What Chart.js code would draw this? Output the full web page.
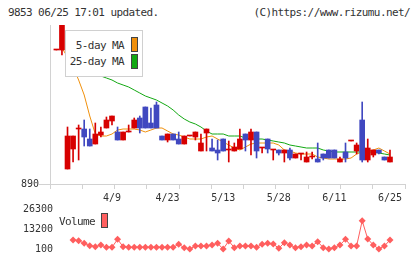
<!DOCTYPE html>
<html>
<head>
<meta charset="utf-8">
<script src="https://cdn.jsdelivr.net/npm/chart.js@4"></script>
<style>
body { margin: 0; background: #fff; }
#wrap { position: relative; width: 420px; height: 259px; overflow: hidden; font-family: "DejaVu Sans Mono", monospace; color: #333; }
#wrap canvas { position: absolute; left: 0; }
#priceChart { top: 0; }
#volChart { top: 200px; }
.txt { position: absolute; font-size: 11px; line-height: 12px; letter-spacing: -0.6px; white-space: nowrap; }
#maLegend { position: absolute; left: 65px; top: 30px; width: 78px; height: 47px; box-sizing: border-box; background: #fff; border: 1px solid #d0d0d0; }
#maLegend .txt { left: 0; width: 58px; text-align: right; }
.sw { position: absolute; width: 7px; height: 15px; box-sizing: border-box; border: 1px solid #444; }
</style>
</head>
<body>
<div id="wrap">
  <div class="txt" style="left:8px;top:7px">9853 06/25 17:01 updated.</div>
  <div class="txt" style="right:10px;top:7px">(C)https://www.rizumu.net/</div>
  <canvas id="priceChart" width="420" height="205"></canvas>
  <canvas id="volChart" width="420" height="59"></canvas>
  <div id="maLegend">
    <div class="txt" style="top:9px">5-day MA</div>
    <div class="sw" style="left:65px;top:6px;background:#f0900c"></div>
    <div class="txt" style="top:25px">25-day MA</div>
    <div class="sw" style="left:65px;top:23px;background:#12a812"></div>
  </div>
  <div class="txt" style="left:59px;top:216px">Volume</div>
  <div class="sw" style="left:101px;top:213px;background:#ff6060"></div>
</div>
<script>
// 日足データ (円) - 左から古い順
const opens  = [1024, 1024, 905, 925, 945, 945, 935, 930, 939, 946, 953, 942, 934, 942, 946, 956, 967, 951, 969, 938,
                934, 940, 935, 930, 938, 937, 923, 941, 926, 924, 935, 924, 923, 925, 940, 934, 942, 926, 935, 924,
                924, 921, 924, 916, 920, 912, 917, 915, 920, 924, 924, 912, 922, 933, 923, 954, 914, 919, 924, 917, 912];
const highs  = [1024, 1070, 947, 938, 949, 954, 945, 951, 947, 957, 958, 947, 942, 949, 956, 958, 967, 966, 972, 938,
                940, 940, 942, 938, 938, 942, 940, 945, 935, 934, 935, 933, 931, 945, 940, 945, 942, 926, 935, 924,
                924, 924, 926, 920, 920, 922, 922, 931, 920, 924, 924, 917, 931, 933, 931, 972, 935, 924, 924, 917, 924];
const lows   = [1024, 1019, 905, 912, 914, 928, 928, 930, 937, 946, 949, 934, 934, 942, 946, 941, 946, 946, 946, 934,
                932, 934, 930, 930, 938, 934, 923, 923, 923, 914, 923, 912, 923, 925, 923, 919, 916, 921, 921, 914,
                919, 912, 914, 916, 914, 912, 915, 912, 914, 916, 916, 912, 912, 933, 920, 912, 912, 917, 920, 914, 912];
const closes = [1024, 1062, 938, 938, 945, 937, 928, 940, 942, 954, 958, 934, 942, 942, 954, 946, 946, 946, 946, 934,
                940, 934, 930, 938, 938, 942, 931, 945, 923, 921, 923, 924, 927, 935, 934, 942, 923, 926, 925, 924,
                921, 924, 916, 920, 920, 917, 917, 912, 916, 916, 916, 915, 916, 933, 929, 914, 926, 924, 921, 914, 917];

// 移動平均 (画面外の過去データから計算されているので値を直接持つ)
const ma5  = [null, 1026, 1017, 1007, 994, 979, 958, 940, 938, 938, 940, 944, 945, 945, 945, 944, 942, 944, 946, 946,
              943, 940, 939, 937, 935, 935, 935, 937, 938, 935, 932, 929, 926, 924, 927, 930, 931, 931, 931, 931,
              929, 924, 923, 921, 920, 920, 920, 917, 916, 915, 915, 915, 915, 916, 920, 922, 923, 924, 926, 923, 920];
const ma25 = [null, null, null, null, null, 1004, 1002, 1000, 998, 996, 994, 991, 989, 987, 984, 981, 978, 976, 974, 971,
              968, 964, 959, 955, 952, 950, 947, 943, 940, 940, 940, 938, 938, 938, 936, 935, 935, 935, 934, 933,
              932, 931, 929, 928, 927, 926, 926, 926, 924, 923, 922, 922, 922, 922, 922, 922, 922, 922, 921, 920, 919];

// 出来高 (株)
const volumes = [null, null, null, 6200, 5800, 4100, 2600, 1900, 3000, 1500, 1500, 6700, 1900, 1500, 1500, 1500, 1500, 1500, 1500, 1500,
                 1500, 1500, 3500, 1300, 400, 2400, 2400, 2400, 3000, 4100, 400, 5600, 1300, 2400, 2400, 2400, 1500, 3500, 4100, 3700,
                 900, 4500, 3000, 1300, 1900, 3000, 2400, 5100, 1300, 400, 1300, 3000, 6700, 2400, 2400, 18700, 6900, 3000, 400, 2400, 6200];

// 目盛り
const tickLabels = ["4/9", "4/23", "5/13", "5/28", "6/11", "6/25"];
const tickDays = [10, 20, 30, 40, 50, 60];
const priceTicks = [890];
const volTicks = [100, 13200, 26300];

const RED = "#d70000";
const BLUE = "#4048c0";
const ORANGE = "#f0900c";
const GREEN = "#12a812";
const AXIS = "#d2d2d2";
const TEXT = "#333333";
const VOL = "#ff5e5e";
const FONT = { family: '"DejaVu Sans Mono", monospace', size: 10 };

// 横軸の範囲 (ローソク足の番号)
const xMin = -1.15;
const xMax = 62.7;
const markStep = (xMax - xMin) / 11;

const idx = opens.map((_, i) => i);
const candleColors = idx.map((i) => closes[i] >= opens[i] ? RED : BLUE);

new Chart(document.getElementById("priceChart"), {
    type: "bar",
    data: {
        datasets: [
            {
                type: "line",
                label: "5-day MA",
                data: idx.map((i) => ({ x: i, y: ma5[i] })),
                borderColor: ORANGE,
                borderWidth: 1,
                pointRadius: 0,
                order: 3,
            },
            {
                type: "line",
                label: "25-day MA",
                data: idx.map((i) => ({ x: i, y: ma25[i] })),
                borderColor: GREEN,
                borderWidth: 1,
                pointRadius: 0,
                order: 4,
            },
            {
                label: "wick",
                data: idx.map((i) => ({ x: i, y: [lows[i], highs[i]] })),
                backgroundColor: candleColors,
                barThickness: 1,
                grouped: false,
                clip: 0,
                order: 2,
            },
            {
                label: "body",
                data: idx.map((i) => ({ x: i, y: [opens[i], closes[i]] })),
                backgroundColor: candleColors,
                barThickness: 5,
                minBarLength: 1,
                grouped: false,
                clip: 0,
                order: 1,
            },
        ],
    },
    options: {
        responsive: false,
        animation: false,
        layout: { padding: { left: 0, right: 15, top: 25, bottom: 0 } },
        plugins: { legend: { display: false }, tooltip: { enabled: false } },
        scales: {
            x: {
                type: "linear",
                min: xMin,
                max: xMax,
                offset: false,
                afterBuildTicks: (s) => {
                    const marks = [];
                    for (let k = 0; k <= 11; k++) marks.push(xMin + k * markStep);
                    s.ticks = marks.concat(tickDays).sort((a, b) => a - b).map((v) => ({ value: v }));
                },
                afterFit: (s) => { s.height = 21; },
                grid: {
                    offset: false,
                    drawOnChartArea: false,
                    tickLength: 5,
                    color: AXIS,
                    tickColor: (c) => (c.tick && tickDays.includes(c.tick.value)) ? "rgba(0,0,0,0)" : AXIS,
                },
                border: { color: AXIS },
                ticks: {
                    autoSkip: false,
                    maxRotation: 0,
                    padding: 3,
                    color: TEXT,
                    font: FONT,
                    callback: (v) => {
                        const k = tickDays.indexOf(v);
                        return k >= 0 ? tickLabels[k] : "";
                    },
                },
            },
            y: {
                min: 890,
                max: 1049,
                afterBuildTicks: (s) => { s.ticks = priceTicks.map((v) => ({ value: v })); },
                afterFit: (s) => { s.width = 50; s.paddingTop = 0; s.paddingBottom = 0; },
                grid: { drawOnChartArea: false, tickLength: 11, color: AXIS },
                border: { color: AXIS },
                ticks: { padding: 0, color: TEXT, font: FONT, callback: (v) => String(v) },
            },
        },
    },
});

new Chart(document.getElementById("volChart"), {
    type: "line",
    data: {
        datasets: [
            {
                label: "Volume",
                data: idx.filter((i) => volumes[i] !== null).map((i) => ({ x: i, y: volumes[i] })),
                borderColor: VOL,
                backgroundColor: VOL,
                borderWidth: 1,
                pointStyle: "rectRot",
                pointRadius: 3.5,
                pointBorderWidth: 0,
            },
        ],
    },
    options: {
        responsive: false,
        animation: false,
        layout: { padding: { left: 0, right: 15, top: 5, bottom: 6 } },
        plugins: { legend: { display: false }, tooltip: { enabled: false } },
        scales: {
            x: { type: "linear", min: xMin, max: xMax, display: false },
            y: {
                min: -2164,
                max: 28888,
                afterBuildTicks: (s) => { s.ticks = volTicks.map((v) => ({ value: v })); },
                afterFit: (s) => { s.width = 50; s.paddingTop = 0; s.paddingBottom = 0; },
                grid: { display: false, drawTicks: false },
                border: { display: false },
                // ラベルを軸の右端より少し右まではみ出させるため mirror + far を使う
                ticks: { mirror: true, crossAlign: "far", padding: -27, color: TEXT, font: FONT, callback: (v) => String(v) },
            },
        },
    },
});
</script>
</body>
</html>
